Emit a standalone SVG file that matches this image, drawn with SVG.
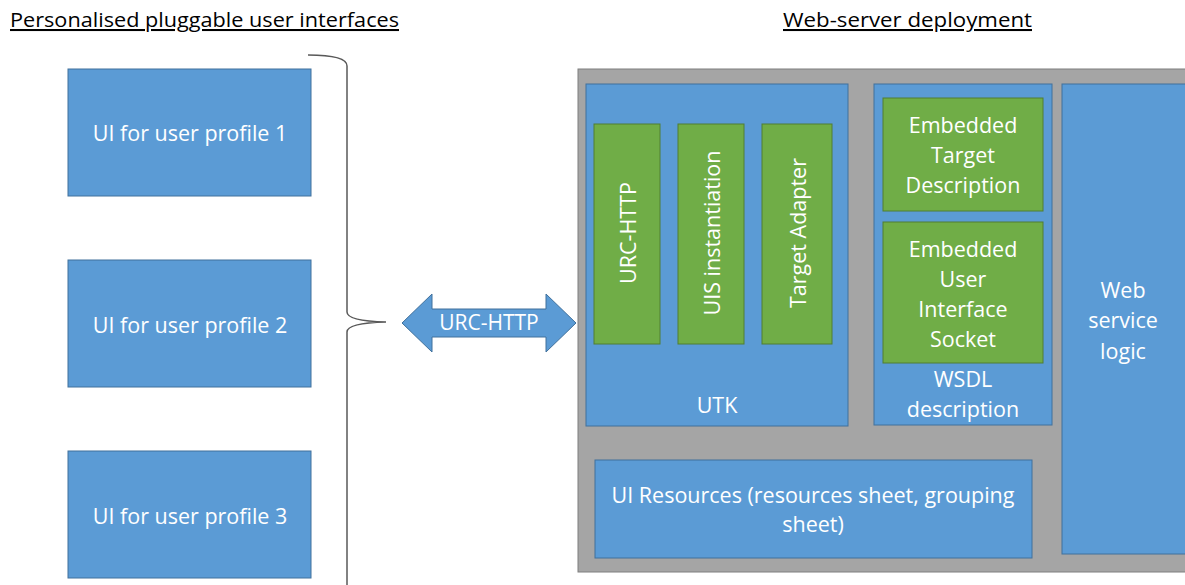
<svg xmlns="http://www.w3.org/2000/svg" width="1185" height="585" viewBox="0 0 1185 585">
<style>
.blue{fill:#5B9BD5;stroke:#41719C;stroke-width:1}
.green{fill:#70AD47;stroke:#507E32;stroke-width:1}
.gray{fill:#A5A5A5;stroke:#7F7F7F;stroke-width:1}
.t{font-family:"Open Sans","Liberation Sans",sans-serif;font-size:21.5px;fill:#FFFFFF;text-anchor:middle;dominant-baseline:central}
.title{font-family:"Open Sans","Liberation Sans",sans-serif;font-size:20.5px;fill:#000000;text-decoration:underline}
</style>
<rect width="1185" height="585" fill="#FFFFFF"/>
<text class="title" x="10" y="27" textLength="389" lengthAdjust="spacingAndGlyphs">Personalised pluggable user interfaces</text>
<text class="title" x="783" y="27" textLength="249" lengthAdjust="spacingAndGlyphs">Web-server deployment</text>

<g id="ui1"><rect class="blue" x="68" y="69" width="243" height="127"/><text class="t" x="190" y="132">UI for user profile 1</text></g>
<g id="ui2"><rect class="blue" x="68" y="260" width="243" height="127"/><text class="t" x="190" y="324">UI for user profile 2</text></g>
<g id="ui3"><rect class="blue" x="68" y="451" width="243" height="127"/><text class="t" x="190" y="515">UI for user profile 3</text></g>

<g id="brace"><path d="M308,55 Q347,55 347,66 L347,312 Q347,321 386,322 Q347,323 347,332 L347,590" fill="none" stroke="#595959" stroke-width="1.5"/></g>

<g id="connectors">
<g id="arrow"><polygon class="blue" points="402,323 432,294 432,309 546,309 546,294 576,323 546,352 546,337 432,337 432,352"/><text class="t" x="489" y="322" style="font-size:21px">URC-HTTP</text></g>
</g>

<g id="server"><rect class="gray" x="578" y="69" width="612" height="503"/></g>

<g id="utk"><rect class="blue" x="586" y="84" width="262" height="342"/><text class="t" x="717" y="404">UTK</text></g>
<g id="urchttp"><rect class="green" x="594" y="124" width="66" height="220"/><text class="t" transform="translate(627,233) rotate(-90)">URC-HTTP</text></g>
<g id="uis"><rect class="green" x="678" y="124" width="66" height="220"/><text class="t" transform="translate(711,233) rotate(-90)">UIS instantiation</text></g>
<g id="adapter"><rect class="green" x="762" y="124" width="70" height="220"/><text class="t" transform="translate(797,233) rotate(-90)">Target Adapter</text></g>

<g id="wsdl"><rect class="blue" x="874" y="84" width="178" height="341"/><text class="t" x="963" y="378">WSDL</text><text class="t" x="963" y="408">description</text></g>
<g id="etd"><rect class="green" x="883" y="98" width="160" height="113"/><text class="t" x="963" y="124">Embedded</text><text class="t" x="963" y="154">Target</text><text class="t" x="963" y="184">Description</text></g>
<g id="euis"><rect class="green" x="883" y="222" width="160" height="141"/><text class="t" x="963" y="248">Embedded</text><text class="t" x="963" y="278">User</text><text class="t" x="963" y="308">Interface</text><text class="t" x="963" y="338">Socket</text></g>

<g id="logic"><rect class="blue" x="1062" y="84" width="130" height="470"/><text class="t" x="1123" y="289">Web</text><text class="t" x="1123" y="319">service</text><text class="t" x="1123" y="350">logic</text></g>

<g id="resources"><rect class="blue" x="595" y="460" width="437" height="98"/><text class="t" x="813" y="494">UI Resources (resources sheet, grouping</text><text class="t" x="813" y="523">sheet)</text></g>
</svg>
